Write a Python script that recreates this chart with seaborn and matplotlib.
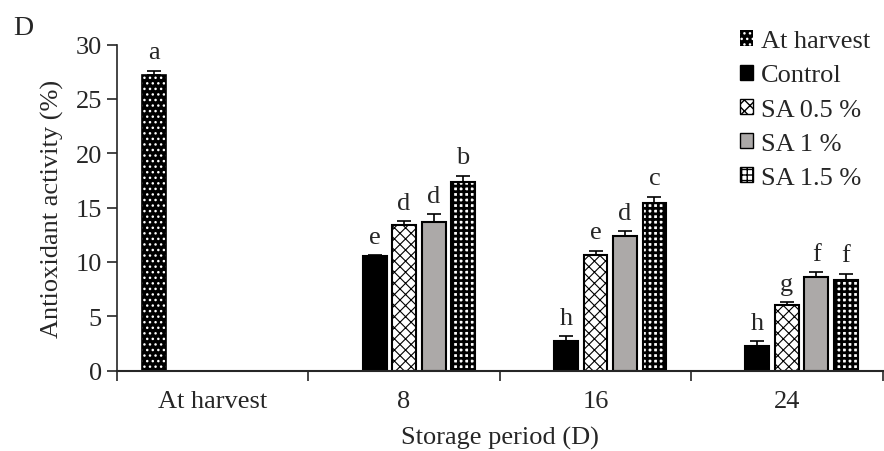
# Antioxidant activity over storage period (panel D)

import pandas as pd
import seaborn as sns
import matplotlib.pyplot as plt
from matplotlib.patches import Patch

periods = ["At harvest", "8", "16", "24"]
treatments = ["At harvest", "Control", "SA 0.5 %", "SA 1 %", "SA 1.5 %"]

# values (%), one list per storage period
harvest_val = [27.2]
day8_val = [10.5, 13.4, 13.7, 17.4]
day16_val = [2.7, 10.6, 12.4, 15.4]
day24_val = [2.3, 6.0, 8.6, 8.3]

harvest_sd = [0.4]
day8_sd = [0.1, 0.35, 0.7, 0.55]
day16_sd = [0.45, 0.45, 0.4, 0.6]
day24_sd = [0.4, 0.3, 0.45, 0.6]

harvest_let = ["a"]
day8_let = ["e", "d", "d", "b"]
day16_let = ["h", "e", "d", "c"]
day24_let = ["h", "g", "f", "f"]

rows = [("At harvest", "At harvest", harvest_val[0], harvest_sd[0], harvest_let[0])]
for per, vals, sds, lets in [("8", day8_val, day8_sd, day8_let),
                             ("16", day16_val, day16_sd, day16_let),
                             ("24", day24_val, day24_sd, day24_let)]:
    for t, v, s, l in zip(treatments[1:], vals, sds, lets):
        rows.append((per, t, v, s, l))
df = pd.DataFrame(rows, columns=["periodo", "trat", "valor", "sd", "letra"])

sns.set_style("ticks")
plt.rcParams['font.family'] = ['Liberation Serif', 'DejaVu Serif']
plt.rcParams['hatch.linewidth'] = 1.0
fs = 19

fig = plt.figure(figsize=(8.84, 4.52), dpi=100)
ax = fig.add_axes([0.1324, 0.178, 0.866, 0.721])

cores = {"At harvest": "black", "Control": "black", "SA 0.5 %": "white",
         "SA 1 %": "#aca9a8", "SA 1.5 %": "white"}
sns.barplot(data=df, x="periodo", y="valor", hue="trat", order=periods,
            hue_order=treatments, palette=cores, width=0.77, gap=0.19,
            errorbar=None, legend=False, ax=ax)

estilos = {
    "At harvest": dict(fc="black", ec="white", hatch="...", lw=0, hlw=1.0),
    "Control": dict(fc="black", ec="black", hatch=None, lw=1.5, hlw=1.0),
    "SA 0.5 %": dict(fc="white", ec="black", hatch="xxx", lw=1.5, hlw=0.8),
    "SA 1 %": dict(fc="#aca9a8", ec="black", hatch=None, lw=1.5, hlw=1.0),
    "SA 1.5 %": dict(fc="white", ec="black", hatch="+++", lw=1.5, hlw=2.0),
}

for cont, t in zip(ax.containers, treatments):
    st = estilos[t]
    sub = df[df["trat"] == t]
    for p in cont:
        if p.get_height() != p.get_height() or p.get_height() == 0:
            continue
        p.set_facecolor(st["fc"])
        p.set_edgecolor(st["ec"])
        p.set_linewidth(st["lw"])
        if st["hatch"]:
            p.set_hatch(st["hatch"])
            if hasattr(p, "set_hatch_linewidth"):
                p.set_hatch_linewidth(st["hlw"])
        xc = p.get_x() + p.get_width() / 2
        cat = periods[int(round(xc))]
        r = sub[sub["periodo"] == cat].iloc[0]
        if t == "At harvest":
            # outline drawn separately since edge colour sets the dot colour
            ax.add_patch(plt.Rectangle((p.get_x(), 0), p.get_width(), p.get_height(),
                                       fill=False, ec="black", lw=1.2, zorder=p.get_zorder()))
        ax.errorbar(xc, r["valor"], yerr=[[0], [r["sd"]]], fmt="none",
                    ecolor="black", elinewidth=1.2, capsize=5, capthick=1.2)
        ax.text(xc, r["valor"] + r["sd"] + 0.7, r["letra"], ha="center",
                va="bottom", fontsize=fs)

ax.set_xlim(-0.5, 3.5)
ax.set_ylim(0, 30)
ax.set_yticks(range(0, 31, 5))
ax.set_xticks(range(4))
ax.set_xticklabels(periods)
ax.set_xticks([-0.5, 0.5, 1.5, 2.5, 3.5], minor=True)
ax.tick_params(axis="x", which="major", length=0, labelsize=fs, pad=14)
ax.tick_params(axis="x", which="minor", length=7, width=1.2, direction="out")
ax.tick_params(axis="y", length=7, width=1.2, direction="out", labelsize=fs, pad=4)
sns.despine(ax=ax)
ax.spines["left"].set_linewidth(1.2)
ax.spines["bottom"].set_linewidth(1.5)
ax.set_xlabel("Storage period (D)", fontsize=fs, labelpad=10)
ax.set_ylabel("Antioxidant activity (%)", fontsize=fs, labelpad=8)

handles = []
for t in treatments:
    st = estilos[t]
    ec = st["ec"] if t != "At harvest" else "white"
    handles.append(Patch(facecolor=st["fc"], edgecolor=ec, hatch=st["hatch"],
                         linewidth=1.0 if t != "At harvest" else 0, label=t))
fig.legend(handles=handles, loc="upper left", bbox_to_anchor=(0.825, 0.954),
           frameon=False, fontsize=fs, handlelength=0.5, handleheight=0.5,
           handletextpad=0.3, labelspacing=0.46, borderaxespad=0)

fig.text(0.015, 0.965, "D", fontsize=20, va="top", ha="left")

plt.savefig("out.png", dpi=100)
